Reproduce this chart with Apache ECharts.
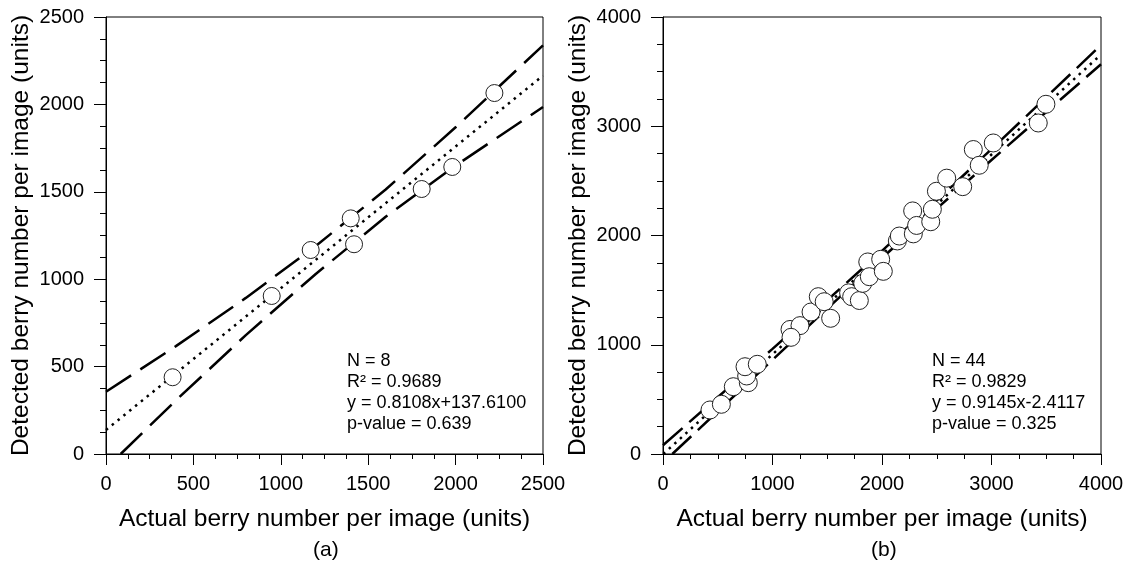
<!DOCTYPE html>
<html>
<head>
<meta charset="utf-8">
<script src="https://cdn.jsdelivr.net/npm/echarts@6/dist/echarts.min.js"></script>
<style>
  html, body { margin: 0; padding: 0; background: #fff; }
  #chart { width: 1128px; height: 572px; }
</style>
</head>
<body>
<div id="chart"></div>
<script>
// (a) 8 images
const actualA = [381, 948, 1171, 1400, 1419, 1806, 1981, 2222];
const detectedA = [439, 904, 1167, 1348, 1200, 1516, 1642, 2065];
const fitXA = [0, 2500];
const fitYA = [137.6, 2164.6];
const upperXA = [0, 400, 800, 1200, 1600, 2000, 2500];
const upperYA = [356, 617, 893, 1190, 1513, 1869, 2338];
const lowerXA = [84, 400, 800, 1200, 1600, 2000, 2500];
const lowerYA = [0, 307, 680, 1030, 1357, 1650, 1985];

// (b) 44 images
const actualB = [429, 533, 642, 779, 764, 749, 861, 1160, 1251, 1169, 1352, 1418, 1472, 1531,
  1695, 1723, 1793, 1824, 1870, 1884, 1988, 2012, 2140, 2158, 2280, 2286, 2316, 2445, 2460,
  2497, 2591, 2737, 2834, 2888, 3016, 3427, 3497];
const detectedB = [403, 455, 616, 653, 714, 799, 821, 1140, 1175, 1068, 1300, 1440, 1394, 1242,
  1475, 1440, 1405, 1562, 1758, 1623, 1782, 1672, 1950, 1995, 2225, 2015, 2092, 2126, 2240,
  2405, 2525, 2447, 2787, 2643, 2847, 3030, 3201];
const fitXB = [3, 4000];
const fitYB = [0, 3656];
const upperXB = [0, 500, 1000, 1500, 2000, 2500, 3000, 3500, 4000];
const upperYB = [80, 520, 962, 1407, 1860, 2322, 2791, 3266, 3744];
const lowerXB = [85, 500, 1000, 1500, 2000, 2500, 3000, 3500, 4000];
const lowerYB = [0, 390, 862, 1331, 1794, 2246, 2691, 3130, 3568];

const FONT = 'Liberation Sans, Arial, sans-serif';
const pairs = (xs, ys) => xs.map((x, i) => [x, ys[i]]);

const makeX = (idx, max, step) => ({
  type: 'value', gridIndex: idx, min: 0, max: max, interval: step,
  name: 'Actual berry number per image (units)',
  nameLocation: 'middle', nameGap: 53,
  nameTextStyle: { fontSize: 24.5, color: '#000', fontFamily: FONT },
  axisLine: { show: true, lineStyle: { color: '#000', width: 1 } },
  axisTick: { show: true, inside: false, length: 11, lineStyle: { color: '#000' } },
  minorTick: { show: true, splitNumber: 4, length: 5, lineStyle: { color: '#000' } },
  axisLabel: { fontSize: 20, color: '#000', margin: 20, fontFamily: FONT, formatter: v => String(v) },
  splitLine: { show: false }
});

const makeY = (idx, max, step) => ({
  type: 'value', gridIndex: idx, min: 0, max: max, interval: step,
  name: 'Detected berry number per image (units)',
  nameLocation: 'middle', nameGap: 72,
  nameTextStyle: { fontSize: 24.5, color: '#000', fontFamily: FONT },
  axisLine: { show: true, lineStyle: { color: '#000', width: 1 } },
  axisTick: { show: true, inside: false, length: 12, lineStyle: { color: '#000' } },
  minorTick: { show: true, splitNumber: 4, length: 6, lineStyle: { color: '#000' } },
  axisLabel: { fontSize: 20, color: '#000', margin: 22, fontFamily: FONT, formatter: v => String(v) },
  splitLine: { show: false }
});

const lineSeries = (idx, data, dash, width) => ({
  type: 'line', xAxisIndex: idx, yAxisIndex: idx,
  data: data, showSymbol: false, symbol: 'none', silent: true, z: 2,
  lineStyle: { color: '#000', width: width, type: dash, cap: 'butt' }
});

const scatterSeries = (idx, data, size) => ({
  type: 'scatter', xAxisIndex: idx, yAxisIndex: idx,
  data: data, symbol: 'circle', symbolSize: size, z: 5,
  itemStyle: { color: '#fff', borderColor: '#222', borderWidth: 1, opacity: 1 }
});

const statText = (left, lines) => ({
  type: 'text', left: left, top: 351,
  style: { text: lines.join('\n'), fontSize: 18, lineHeight: 21, fill: '#000', fontFamily: FONT }
});

const chart = echarts.init(document.getElementById('chart'), null, { renderer: 'canvas' });

chart.setOption({
  backgroundColor: '#fff',
  animation: false,
  grid: [
    { left: 106, right: 585, top: 17, bottom: 118, show: true, borderColor: '#000', borderWidth: 1, backgroundColor: 'transparent' },
    { left: 663, right: 27, top: 17, bottom: 118, show: true, borderColor: '#000', borderWidth: 1, backgroundColor: 'transparent' }
  ],
  xAxis: [makeX(0, 2500, 500), makeX(1, 4000, 1000)],
  yAxis: [makeY(0, 2500, 500), makeY(1, 4000, 1000)],
  series: [
    lineSeries(0, pairs(upperXA, upperYA), [30, 11], 2.5),
    lineSeries(0, pairs(lowerXA, lowerYA), [30, 11], 2.5),
    lineSeries(0, pairs(fitXA, fitYA), [2.5, 5], 2.5),
    scatterSeries(0, pairs(actualA, detectedA), 17),
    lineSeries(1, pairs(upperXB, upperYB), [26, 9], 2.5),
    lineSeries(1, pairs(lowerXB, lowerYB), [26, 9], 2.5),
    lineSeries(1, pairs(fitXB, fitYB), [2.5, 5], 2.5),
    scatterSeries(1, pairs(actualB, detectedB), 18)
  ],
  graphic: [
    statText(347, ['N = 8', 'R² = 0.9689', 'y = 0.8108x+137.6100', 'p-value = 0.639']),
    statText(932, ['N = 44', 'R² = 0.9829', 'y = 0.9145x-2.4117', 'p-value = 0.325']),
    { type: 'text', left: 313, top: 540, style: { text: '(a)', fontSize: 21, fill: '#000', fontFamily: FONT } },
    { type: 'text', left: 871, top: 540, style: { text: '(b)', fontSize: 21, fill: '#000', fontFamily: FONT } }
  ]
});
</script>
</body>
</html>
